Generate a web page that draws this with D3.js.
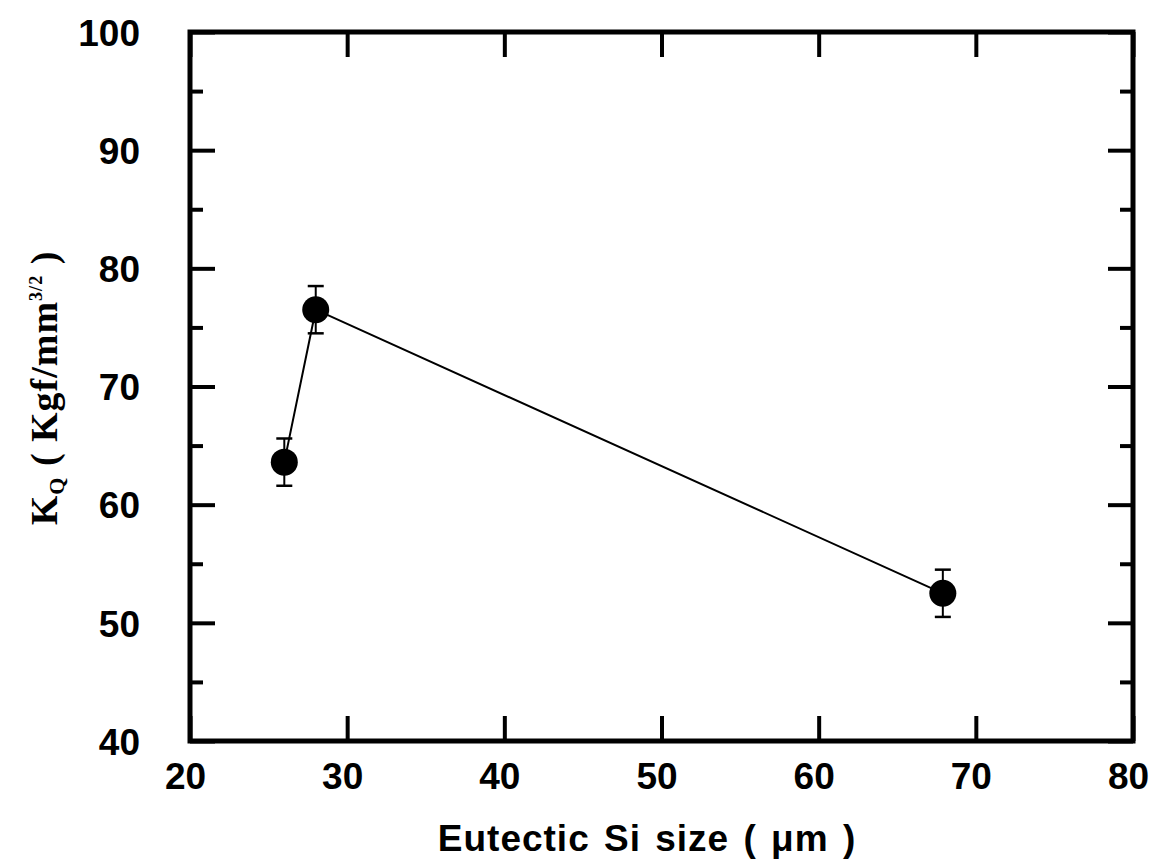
<!DOCTYPE html>
<head>
<meta charset="utf-8">
<title>Eutectic Si size vs KQ</title>
<script type="text/javascript" src="https://d3js.org/d3.v7.min.js"></script>
<style>
body { margin: 0; background: #fff; }
.axis path, .axis line { stroke: #000; }
.axis text { font-family: "Liberation Sans", Arial, sans-serif; font-weight: bold; fill: #000; }
</style>
</head>
<body>
<div id="container"></div>
<script>
//*******************
//data
//*******************
const siSize = [26.0, 28.0, 67.9];
const kq = [63.6, 76.5, 52.5];
const kqErr = [2.0, 2.0, 2.0];
const xTicks = [20, 30, 40, 50, 60, 70, 80];
const yTicks = [40, 50, 60, 70, 80, 90, 100];
const yMinor = [45, 55, 65, 75, 85, 95];

//*******************
//setup svg
//*******************
const W = 1167, H = 859;
const plotLeft = 190, plotTop = 32, plotRight = 1133, plotBottom = 741;

const svg = d3.select("div#container").append("svg")
    .attr("width", W)
    .attr("height", H);

const x = d3.scaleLinear().domain([20, 80]).range([plotLeft, plotRight]);
const y = d3.scaleLinear().domain([40, 100]).range([plotBottom, plotTop]);

//*******************
//axes, ticks point inward
//*******************
const bigTick = 25, smallTick = 13;

svg.append("g")
    .attr("class", "axis")
    .attr("transform", "translate(" + plotLeft + ",0)")
    .call(d3.axisLeft(y).tickValues(yTicks).tickSize(-bigTick).tickPadding(50).tickFormat(d3.format("d")))
    .call(g => g.selectAll("text").style("font-size", "37px").attr("dy", "0.36em"));

svg.append("g")
    .attr("class", "axis")
    .attr("transform", "translate(" + plotLeft + ",0)")
    .call(d3.axisLeft(y).tickValues(yMinor).tickSize(-smallTick).tickFormat(""));

svg.append("g")
    .attr("class", "axis")
    .attr("transform", "translate(" + plotRight + ",0)")
    .call(d3.axisRight(y).tickValues(yTicks).tickSize(-bigTick).tickFormat(""));

svg.append("g")
    .attr("class", "axis")
    .attr("transform", "translate(" + plotRight + ",0)")
    .call(d3.axisRight(y).tickValues(yMinor).tickSize(-smallTick).tickFormat(""));

svg.append("g")
    .attr("class", "axis")
    .attr("transform", "translate(0," + plotBottom + ")")
    .call(d3.axisBottom(x).tickValues(xTicks).tickSize(-bigTick).tickPadding(22).tickFormat(d3.format("d")))
    .call(g => g.selectAll("text").style("font-size", "37px").attr("x", -5));

svg.append("g")
    .attr("class", "axis")
    .attr("transform", "translate(0," + plotTop + ")")
    .call(d3.axisTop(x).tickValues(xTicks).tickSize(-bigTick).tickFormat(""));

svg.selectAll(".axis line").attr("stroke-width", 4);
svg.selectAll(".axis path.domain").attr("stroke-width", 0);

//frame
svg.append("rect")
    .attr("x", plotLeft)
    .attr("y", plotTop)
    .attr("width", plotRight - plotLeft)
    .attr("height", plotBottom - plotTop)
    .attr("fill", "none")
    .attr("stroke", "#000")
    .attr("stroke-width", 5);

//*******************
//data line, error bars, points
//*******************
const pts = siSize.map((d, i) => ({ x: d, y: kq[i], e: kqErr[i] }));

const line = d3.line()
    .x(d => x(d.x))
    .y(d => y(d.y));

svg.append("path")
    .datum(pts)
    .attr("d", line)
    .attr("fill", "none")
    .attr("stroke", "#000")
    .attr("stroke-width", 2);

const bars = svg.selectAll("g.err")
    .data(pts)
    .enter()
    .append("g")
    .attr("class", "err");

bars.append("line")
    .attr("x1", d => x(d.x)).attr("x2", d => x(d.x))
    .attr("y1", d => y(d.y - d.e)).attr("y2", d => y(d.y + d.e))
    .attr("stroke", "#000").attr("stroke-width", 2);

bars.append("line")
    .attr("x1", d => x(d.x) - 8).attr("x2", d => x(d.x) + 8)
    .attr("y1", d => y(d.y + d.e)).attr("y2", d => y(d.y + d.e))
    .attr("stroke", "#000").attr("stroke-width", 2.5);

bars.append("line")
    .attr("x1", d => x(d.x) - 8).attr("x2", d => x(d.x) + 8)
    .attr("y1", d => y(d.y - d.e)).attr("y2", d => y(d.y - d.e))
    .attr("stroke", "#000").attr("stroke-width", 2.5);

svg.selectAll("circle.pt")
    .data(pts)
    .enter()
    .append("circle")
    .attr("class", "pt")
    .attr("cx", d => x(d.x))
    .attr("cy", d => y(d.y))
    .attr("r", 13.5)
    .attr("fill", "#000");

//*******************
//axis titles
//*******************
svg.append("text")
    .attr("x", 647)
    .attr("y", 851)
    .attr("text-anchor", "middle")
    .style("font-family", "\"Liberation Sans\", Arial, sans-serif")
    .style("font-size", "37px")
    .style("font-weight", "bold")
    .style("letter-spacing", "1px")
    .style("word-spacing", "3px")
    .text("Eutectic Si size ( \u03bcm )");

const yt = svg.append("text")
    .attr("transform", "translate(57,388) rotate(-90)")
    .attr("text-anchor", "middle")
    .style("font-family", "\"Liberation Serif\", \"Times New Roman\", serif")
    .style("font-size", "38px")
    .style("font-weight", "bold")
    .style("letter-spacing", "1px");
yt.append("tspan").text("K");
yt.append("tspan").attr("dy", 7).style("font-size", "22px").text("Q");
yt.append("tspan").attr("dy", -7).text(" ( Kgf/mm");
yt.append("tspan").attr("dy", -15).style("font-size", "18px").text("3/2");
yt.append("tspan").attr("dy", 15).text(" )");
</script>
</body>
